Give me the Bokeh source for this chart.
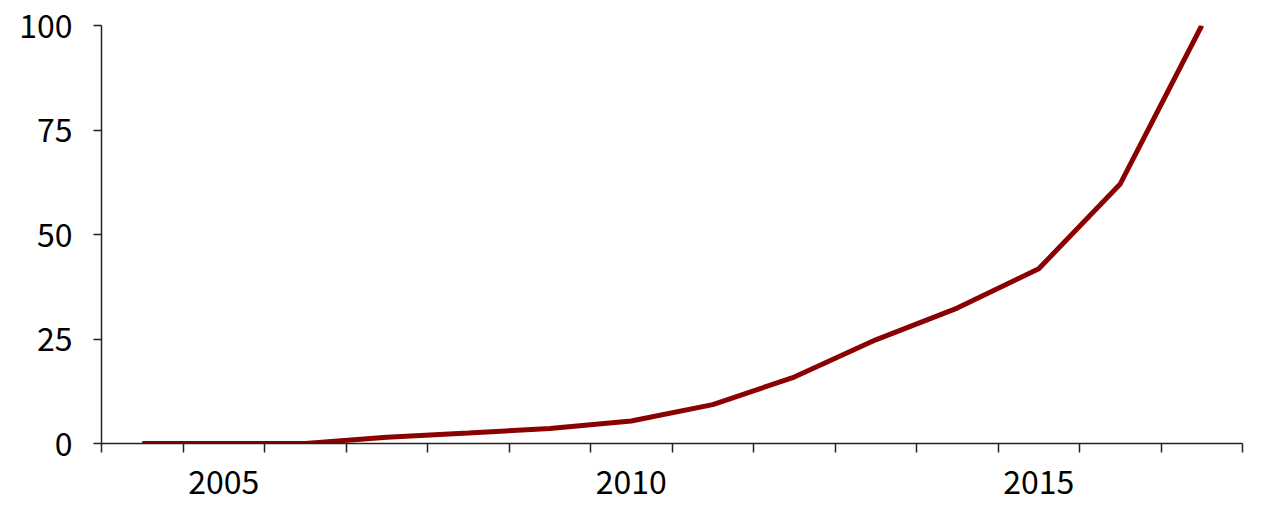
from bokeh.plotting import figure
from bokeh.models import FixedTicker, Range1d
from bokeh.embed import file_html
from bokeh.resources import INLINE

years = [2004, 2005, 2006, 2007, 2008, 2009, 2010, 2011, 2012, 2013, 2014, 2015, 2016, 2017]
values = [0, 0, 0, 1.5, 2.5, 3.6, 5.4, 9.3, 15.9, 24.8, 32.4, 41.8, 62.1, 100]
x_tick_labels = [2005, 2010, 2015]
y_ticks = [0, 25, 50, 75, 100]

FONT = "Noto Sans CJK JP"

p = figure(width=1260, height=507, output_backend="svg", toolbar_location=None,
           x_range=Range1d(years[0] - 0.5, years[-1] + 0.5), y_range=Range1d(0, 100),
           min_border_left=101, min_border_right=18, min_border_top=25, min_border_bottom=64)
p.outline_line_color = None
p.xgrid.grid_line_color = None
p.ygrid.grid_line_color = None
p.background_fill_color = "white"

p.line(years, values, line_color="#8B0000", line_width=5)

bounds = [y - 0.5 for y in years] + [years[-1] + 0.5]
p.xaxis.ticker = FixedTicker(ticks=x_tick_labels, minor_ticks=bounds)
p.xaxis.major_tick_line_color = None
p.xaxis.major_tick_out = 0
p.xaxis.major_tick_in = 0
p.xaxis.minor_tick_out = 9
p.xaxis.minor_tick_in = 0
p.xaxis.minor_tick_line_color = "#222222"
p.xaxis.minor_tick_line_width = 1.5
p.xaxis.major_label_standoff = 17

p.yaxis.ticker = FixedTicker(ticks=y_ticks)
p.yaxis.major_tick_out = 8
p.yaxis.major_tick_in = 0
p.yaxis.minor_tick_line_color = None
p.yaxis.major_label_standoff = 21
p.yaxis.major_tick_line_width = 1.5
p.yaxis.major_tick_line_color = "#222222"

for ax in (p.xaxis, p.yaxis):
    ax.axis_line_color = "#222222"
    ax.axis_line_width = 1.5
    ax.major_label_text_font = FONT
    ax.major_label_text_font_size = "32px"
    ax.major_label_text_color = "black"

open("out.html", "w").write(file_html(p, INLINE))
